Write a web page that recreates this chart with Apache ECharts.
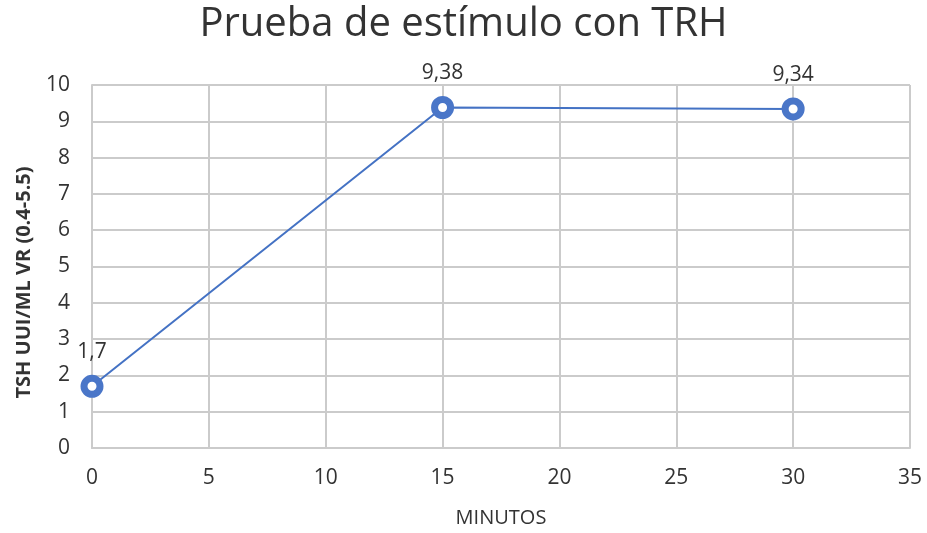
<!DOCTYPE html>
<html>
<head>
<meta charset="utf-8">
<script src="https://cdn.jsdelivr.net/npm/echarts@6/dist/echarts.min.js"></script>
<style>
  html, body { margin: 0; padding: 0; background: #fff; }
  #chart { width: 927px; height: 533px; }
</style>
</head>
<body>
<div id="chart"></div>
<script>
// minutes after TRH and measured TSH
const minutos = [0, 15, 30];
const tsh = [1.7, 9.38, 9.34];

const font = '"Open Sans", "Liberation Sans", sans-serif';
const txt = '#333333';
const gridColor = '#cbcbcb';

let chart = echarts.init(document.getElementById('chart'));
let option = {
	backgroundColor: '#fff',
	title: {
		text: 'Prueba de estímulo con TRH',
		left: 'center',
		top: 0,
		textStyle: { fontFamily: font, fontSize: 40, fontWeight: 'normal', color: txt }
	},
	grid: { left: 92, right: 17, top: 85, bottom: 84 },
	xAxis: {
		type: 'value',
		min: 0, max: 35, interval: 5,
		name: 'MINUTOS',
		nameLocation: 'middle',
		nameGap: 60,
		nameTextStyle: { fontFamily: font, fontSize: 20, color: txt },
		axisLine: { show: true, lineStyle: { color: gridColor, width: 2 } },
		axisTick: { show: false },
		axisLabel: { fontFamily: font, fontSize: 21, color: txt, margin: 20 },
		splitLine: { show: true, lineStyle: { color: gridColor, width: 2 } }
	},
	yAxis: {
		type: 'value',
		min: 0, max: 10, interval: 1,
		name: 'TSH UUI/ML VR (0.4-5.5)',
		nameLocation: 'middle',
		nameGap: 58,
		nameTextStyle: { fontFamily: font, fontSize: 20, fontWeight: 'bold', color: txt, padding: [0, 32, 0, 0] },
		axisLine: { show: true, lineStyle: { color: gridColor, width: 2 } },
		axisTick: { show: false },
		axisLabel: { fontFamily: font, fontSize: 21, color: txt, margin: 22 },
		splitLine: { show: true, lineStyle: { color: gridColor, width: 2 } }
	},
	series: [{
		type: 'line',
		data: minutos.map((m, i) => [m, tsh[i]]),
		symbol: 'circle',
		symbolSize: 16,
		lineStyle: { color: '#4472C4', width: 2 },
		itemStyle: { color: '#fff', borderColor: '#4a76c8', borderWidth: 7 },
		label: {
			show: true,
			position: 'top',
			distance: 12,
			fontFamily: font,
			fontSize: 21,
			color: txt,
			formatter: p => String(p.value[1]).replace('.', ',')
		},
		emphasis: { disabled: true }
	}]
};
chart.setOption(option);
</script>
</body>
</html>
